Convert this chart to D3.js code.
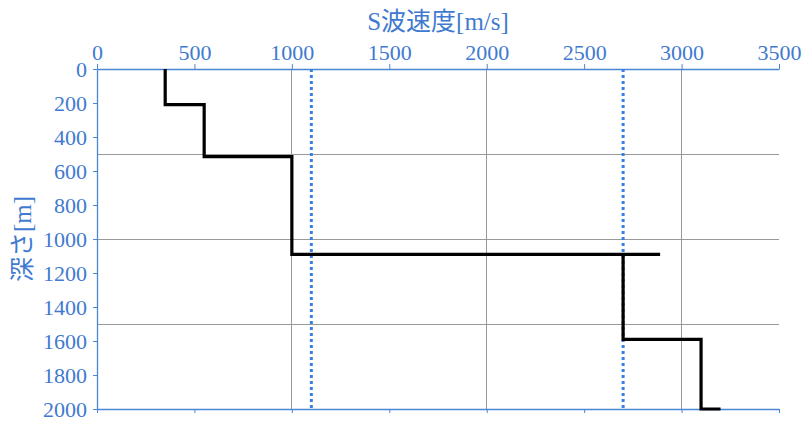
<!DOCTYPE html>
<html><head><meta charset="utf-8">
<script src="https://cdn.jsdelivr.net/npm/d3@7"></script>
<style>
body{margin:0;background:#fff;}
</style></head>
<body><svg id="c" width="810" height="426"></svg>
<script>
// S-wave velocity profile (vertices of the step line)
const profileVs = [350, 350, 550, 550, 1000, 1000, 2890, 2700, 2700, 3100, 3100, 3200];
const profileDepth = [0, 210, 210, 515, 515, 1090, 1090, 1090, 1590, 1590, 2000, 2000];
const refVs = [1100, 2700];
const xTicks = [0, 500, 1000, 1500, 2000, 2500, 3000, 3500];
const yTicks = [0, 200, 400, 600, 800, 1000, 1200, 1400, 1600, 1800, 2000];
const xGrid = [1000, 2000, 3000];
const yGrid = [500, 1000, 1500];
const xTitle = "S波速度[m/s]";
const yTitle = "深さ[m]";

const FONT = "'Liberation Serif', 'DejaVu Serif', 'Noto Sans CJK JP', serif";
const blue = "#3f7ad0", axisBlue = "#4a86d4", dotBlue = "#3a7fe0";
const svg = d3.select("#c");
const L = 97, R = 779, T = 69, B = 409;
const x = d3.scaleLinear().domain([0, 3500]).range([L, R]);
const y = d3.scaleLinear().domain([0, 2000]).range([T, B]);
const fmt = d3.format("d");

// grid
svg.append("g").selectAll("line").data(xGrid).join("line")
  .attr("x1", d => x(d)).attr("x2", d => x(d)).attr("y1", T).attr("y2", B)
  .attr("stroke", "#999").attr("stroke-width", 1).attr("shape-rendering", "crispEdges");
svg.append("g").selectAll("line").data(yGrid).join("line")
  .attr("y1", d => y(d)).attr("y2", d => y(d)).attr("x1", L).attr("x2", R)
  .attr("stroke", "#999").attr("stroke-width", 1).attr("shape-rendering", "crispEdges");

function styleAxis(g, showText) {
  g.attr("font-family", null);
  g.select(".domain").attr("stroke", axisBlue).attr("stroke-width", 1.3);
  g.selectAll(".tick line").attr("stroke", axisBlue);
  g.selectAll("text").attr("fill", blue).style("font-size", "22px")
    .style("font-family", FONT);
  if (!showText) g.selectAll("text").remove();
}
// top axis
svg.append("g").attr("transform", `translate(0,${T})`)
  .call(d3.axisTop(x).tickValues(xTicks).tickFormat(fmt).tickSize(5).tickSizeOuter(0).tickPadding(4))
  .call(g => styleAxis(g, true));
// bottom axis (no labels)
svg.append("g").attr("transform", `translate(0,${B})`)
  .call(d3.axisBottom(x).tickValues(xTicks).tickSize(4).tickSizeOuter(0))
  .call(g => styleAxis(g, false));
// left axis
svg.append("g").attr("transform", `translate(${L},0)`)
  .call(d3.axisLeft(y).tickValues(yTicks).tickFormat(fmt).tickSize(4).tickSizeOuter(0).tickPadding(6))
  .call(g => styleAxis(g, true));

// reference dotted lines
svg.append("g").selectAll("line").data(refVs).join("line")
  .attr("x1", d => x(d)).attr("x2", d => x(d)).attr("y1", y(0)).attr("y2", y(2000))
  .attr("stroke", dotBlue).attr("stroke-width", 3).attr("stroke-dasharray", "3,3");

// profile line
const pts = profileVs.map((v, i) => [x(v), y(profileDepth[i])]);
svg.append("path").attr("d", d3.line()(pts))
  .attr("fill", "none").attr("stroke", "#000").attr("stroke-width", 3.2)
  .attr("stroke-linejoin", "miter");

// titles
svg.append("text").attr("x", (L + R) / 2).attr("y", 30).attr("text-anchor", "middle")
  .attr("fill", blue).style("font-size", "25px").style("font-family", FONT).text(xTitle);
svg.append("text").attr("transform", `translate(31,${(T + B) / 2}) rotate(-90)`)
  .attr("text-anchor", "middle").attr("fill", blue).style("font-size", "25px")
  .style("font-family", FONT).text(yTitle);
</script></body></html>
